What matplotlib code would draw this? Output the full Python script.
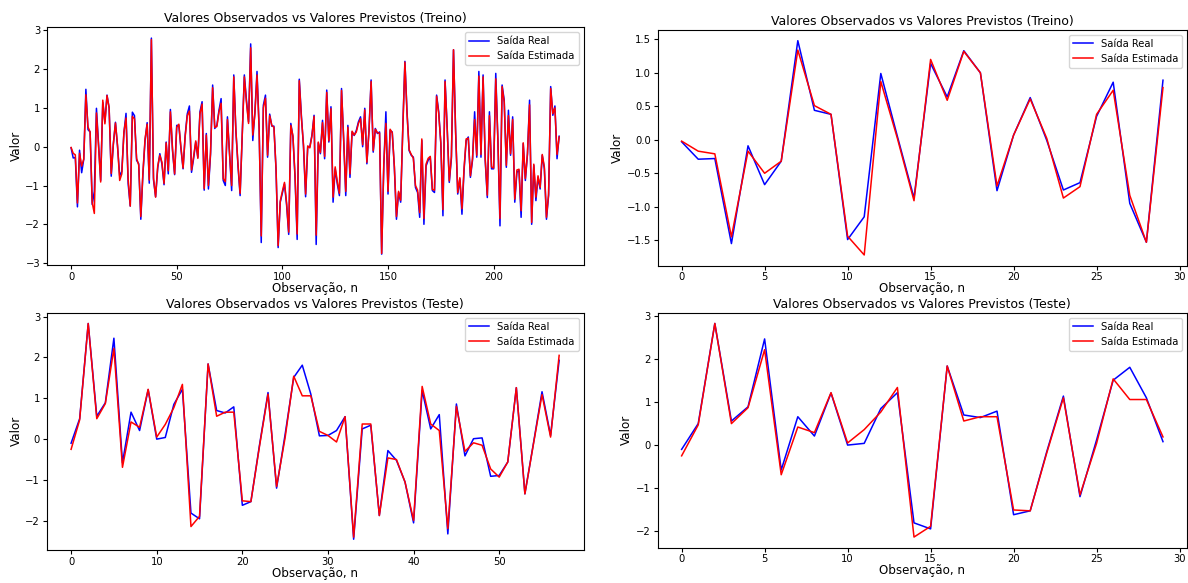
import numpy as np
import matplotlib
matplotlib.use("Agg")
import matplotlib.pyplot as plt

# saida real / estimada - treino (232 observacoes)
treino_real = [
    -0.03, -0.29, -0.28, -1.55, -0.09, -0.67, -0.32, 1.48, 0.44, 0.38,
    -1.49, -1.15, 0.99, 0.05, -0.87, 1.14, 0.64, 1.33, 1.00, -0.76,
    0.07, 0.63, -0.01, -0.75, -0.64, 0.35, 0.86, -0.95, -1.53, 0.89,
    0.80, -0.35, -0.44, -1.87, -0.70, 0.15, 0.62, -0.94, 2.80, -0.85,
    -1.29, -0.55, -0.18, -0.45, -0.98, 0.12, -0.70, 0.96, -0.10, -0.72,
    0.55, 0.55, -0.05, -0.57, 0.30, 0.85, 1.05, -0.66, -0.30, 0.12,
    -0.27, 0.90, 1.16, -1.12, 0.34, -1.09, -0.20, 1.59, 0.47, 0.55,
    0.94, 1.24, -0.87, -1.00, 0.77, -0.20, -1.13, 1.85, 0.40, -0.50,
    -1.26, 0.30, 1.85, 1.20, 0.64, 2.65, 0.16, 0.90, 1.94, 0.50,
    -2.47, 1.07, 1.33, -0.27, 0.84, 0.53, 0.53, -0.60, -2.60, -1.43,
    -1.20, -0.96, -1.50, -2.26, 0.60, 0.25, -0.80, -2.39, 1.74, 0.80,
    0.00, -1.29, 0.00, 0.00, 0.30, 0.81, -2.52, 0.10, -0.18, 0.68,
    -0.31, 1.46, 0.12, 1.03, -1.43, -0.57, -0.96, -1.26, 1.50, 0.20,
    -1.26, 0.55, -0.79, 0.38, 0.29, 0.42, 0.64, 0.77, 0.00, 0.99,
    -0.44, 0.42, 1.72, -0.14, 0.47, 0.34, 0.38, -2.77, -0.50, 0.90,
    -1.22, 0.42, 0.38, -0.53, -1.87, -1.18, -1.43, 0.50, 2.20, 0.90,
    -0.10, -0.22, -0.27, -1.05, -1.18, -1.82, 0.16, -2.00, -0.50, -0.35,
    -0.27, -1.13, -1.18, 1.33, 0.90, 0.08, -1.78, 1.72, 0.50, -0.92,
    -0.30, 2.50, 0.40, -1.22, -0.83, -1.74, -0.60, 0.16, 0.25, -0.79,
    -0.35, 0.90, -0.27, 1.94, -0.27, 1.85, -0.35, -1.31, 0.90, -0.57,
    -0.57, 1.89, 0.20, -2.04, 1.59, 1.20, -0.53, 0.94, -0.22, 0.77,
    -1.43, -0.66, -0.61, -1.82, 0.08, -0.87, -0.20, 1.20, -2.00, -0.48,
    -1.39, -0.79, -1.09, -0.22, -0.57, -1.87, -1.26, 1.55, 0.81, 1.05,
    -0.31, 0.27,
]
treino_est = [
    -0.02, -0.17, -0.21, -1.45, -0.17, -0.50, -0.32, 1.34, 0.51, 0.38,
    -1.44, -1.72, 0.87, 0.02, -0.91, 1.20, 0.59, 1.32, 1.00, -0.69,
    0.07, 0.61, 0.02, -0.87, -0.70, 0.38, 0.74, -0.83, -1.53, 0.78,
    0.72, -0.30, -0.47, -1.80, -0.66, 0.20, 0.58, -0.86, 2.76, -0.80,
    -1.30, -0.50, -0.22, -0.40, -0.95, 0.10, -0.62, 0.90, -0.05, -0.70,
    0.50, 0.58, -0.02, -0.55, 0.26, 0.80, 0.92, -0.60, -0.25, 0.15,
    -0.30, 0.85, 1.10, -1.08, 0.30, -1.00, -0.15, 1.52, 0.50, 0.52,
    0.90, 1.12, -0.82, -0.90, 0.70, -0.18, -1.00, 1.80, 0.42, -0.45,
    -1.20, 0.28, 1.80, 1.15, 0.60, 2.55, 0.30, 0.85, 1.85, 0.45,
    -2.30, 1.00, 1.25, -0.22, 0.80, 0.55, 0.50, -0.55, -2.55, -1.40,
    -1.15, -0.92, -1.45, -2.20, 0.55, 0.28, -0.75, -2.25, 1.70, 0.75,
    0.05, -1.22, 0.02, -0.03, 0.28, 0.78, -2.28, 0.12, -0.15, 0.62,
    -0.25, 1.40, 0.15, 0.98, -1.30, -0.52, -0.90, -1.20, 1.45, 0.22,
    -1.15, 0.50, -0.70, 0.40, 0.30, 0.38, 0.60, 0.72, 0.05, 0.95,
    -0.40, 0.40, 1.68, -0.10, 0.45, 0.36, 0.35, -2.75, -0.45, 0.60,
    -1.15, 0.45, 0.36, -0.50, -1.80, -1.15, -1.38, 0.45, 2.18, 0.85,
    -0.08, -0.20, -0.30, -1.00, -1.12, -1.70, 0.20, -1.85, -0.45, -0.30,
    -0.25, -1.10, -1.12, 1.30, 0.85, 0.10, -1.62, 1.68, 0.48, -0.88,
    -0.25, 2.50, 0.38, -1.18, -0.80, -1.60, -0.55, 0.20, 0.22, -0.75,
    -0.30, 0.70, -0.22, 1.82, -0.20, 1.80, -0.30, -1.25, 0.80, -0.52,
    -0.55, 1.75, 0.18, -1.85, 1.55, 1.15, -0.48, 0.80, -0.18, 0.70,
    -1.35, -0.60, -0.58, -1.65, 0.10, -0.82, -0.18, 1.08, -1.95, -0.45,
    -1.30, -0.75, -1.05, -0.20, -0.52, -1.82, -1.22, 1.50, 0.85, 1.00,
    -0.20, 0.25,
]

# saida real / estimada - teste (58 observacoes)
teste_real = [
    -0.10, 0.50, 2.83, 0.56, 0.89, 2.47, -0.58, 0.66, 0.21, 1.21,
    0.00, 0.04, 0.85, 1.22, -1.81, -1.95, 1.84, 0.70, 0.64, 0.79,
    -1.62, -1.53, -0.15, 1.14, -1.20, 0.12, 1.51, 1.81, 1.10, 0.08,
    0.09, 0.21, 0.55, -2.45, 0.25, 0.34, -1.87, -0.28, -0.52, -1.05,
    -2.05, 1.19, 0.25, 0.60, -2.32, 0.86, -0.41, 0.01, 0.03, -0.91,
    -0.89, -0.56, 1.26, -1.34, -0.10, 1.16, 0.09, 1.93,
]
teste_est = [
    -0.25, 0.47, 2.83, 0.50, 0.87, 2.22, -0.69, 0.42, 0.29, 1.22,
    0.05, 0.36, 0.77, 1.34, -2.14, -1.89, 1.84, 0.56, 0.66, 0.66,
    -1.51, -1.53, -0.18, 1.10, -1.16, 0.04, 1.54, 1.06, 1.06, 0.19,
    0.09, -0.07, 0.55, -2.40, 0.37, 0.37, -1.87, -0.46, -0.50, -1.05,
    -1.99, 1.29, 0.37, 0.21, -2.19, 0.80, -0.30, -0.09, -0.15, -0.73,
    -0.93, -0.56, 1.26, -1.34, -0.12, 1.09, 0.05, 2.05,
]

n_zoom = 30  # primeiras observacoes no grafico da direita

fig = plt.figure(figsize=(11.88, 5.83), dpi=100)

# posicoes [esq, baixo, largura, altura] em fracao da figura
posicoes = [
    [0.0393, 0.5455, 0.4519, 0.4077],
    [0.5535, 0.5443, 0.4457, 0.4043],
    [0.0393, 0.0566, 0.4519, 0.4070],
    [0.5535, 0.0605, 0.4457, 0.4030],
]
series = [
    (treino_real, treino_est, "Treino"),
    (treino_real[:n_zoom], treino_est[:n_zoom], "Treino"),
    (teste_real, teste_est, "Teste"),
    (teste_real[:n_zoom], teste_est[:n_zoom], "Teste"),
]

for pos, (real, est, nome) in zip(posicoes, series):
    ax = fig.add_axes(pos)
    ax.plot(np.arange(len(real)), real, color="b", lw=1.1, label="Saída Real")
    ax.plot(np.arange(len(est)), est, color="r", lw=1.1, label="Saída Estimada")
    ax.set_title("Valores Observados vs Valores Previstos (" + nome + ")", fontsize=9, pad=3.5)
    ax.set_xlabel("Observação, n", fontsize=8.6, labelpad=0)
    ax.set_ylabel("Valor", fontsize=8.6, labelpad=2)
    ax.tick_params(labelsize=7.2, length=2.8, pad=2)
    ax.legend(loc="upper right", fontsize=7.2)

fig.savefig("out.png", dpi=100)
